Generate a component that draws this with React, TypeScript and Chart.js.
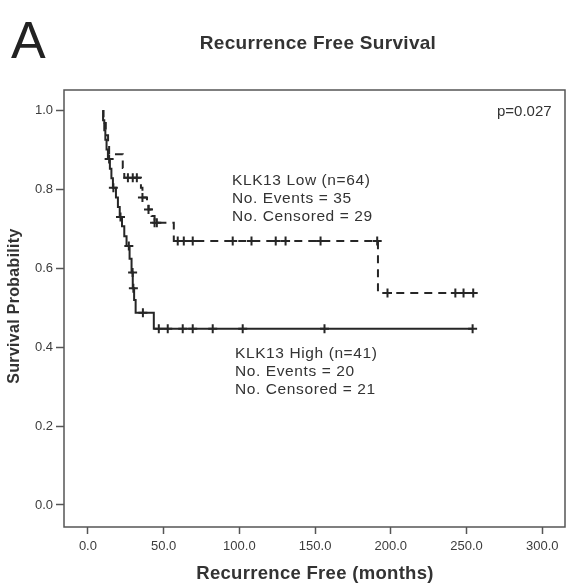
import React, { useEffect, useRef } from 'react';
import { Chart, registerables } from 'chart.js';
Chart.register(...registerables);

const xTicks = [0, 50, 100, 150, 200, 250, 300];
const yTicks = [0, 0.2, 0.4, 0.6, 0.8, 1.0];

const highTimes = [9.5, 10, 10.8, 11.5, 12.3, 13.2, 14.5, 15.5, 16.5, 18.5, 19.8, 21, 22.5, 24, 25.5, 27.5, 28.8, 29.6, 30.5, 31.5, 43.5, 254];
const highSurv = [1.0, 0.976, 0.951, 0.927, 0.902, 0.878, 0.853, 0.829, 0.805, 0.78, 0.756, 0.731, 0.707, 0.682, 0.657, 0.625, 0.59, 0.55, 0.52, 0.488, 0.447, 0.447];
const highCensorTimes = [14, 16.8, 21.5, 27, 29.5, 30, 36.3, 46.8, 52.7, 62.6, 69.2, 82.4, 102.2, 156.2, 254];

const lowTimes = [9.5, 10.3, 11, 11.8, 12.5, 13.3, 14, 23, 24, 35, 36, 39, 40, 42, 44, 56.7, 191.5, 254.4];
const lowSurv = [1.0, 0.984, 0.969, 0.953, 0.938, 0.922, 0.89, 0.855, 0.83, 0.805, 0.78, 0.765, 0.75, 0.733, 0.716, 0.67, 0.538, 0.538];
const lowCensorTimes = [26.4, 29.6, 32.3, 36, 40, 44, 45.5, 59.3, 63.3, 69.2, 95.6, 108, 124, 130.5, 153.6, 191, 197.8, 242.6, 248, 254.4];

const lowLabel = ['KLK13 Low (n=64)', 'No. Events = 35', 'No. Censored = 29'];
const highLabel = ['KLK13 High (n=41)', 'No. Events = 20', 'No. Censored = 21'];
const pValue = 'p=0.027';
const titleText = 'Recurrence Free Survival';
const panelText = 'A';
const xTitle = 'Recurrence Free (months)';
const yTitle = 'Survival Probability';

const FONT = "'Liberation Sans', Arial, Helvetica, sans-serif";
const INK = '#262626';

function survAt(times: number[], surv: number[], t: number) {
  let v = surv[0];
  for (let i = 0; i < times.length; i++) if (times[i] <= t) v = surv[i];
  return v;
}

const decorPlugin = {
  id: 'decor',
  afterDraw(chart: any) {
    const ctx = chart.ctx as any;
    const ca = chart.chartArea;
    ctx.save();
    ctx.strokeStyle = '#555';
    ctx.lineWidth = 1.5;
    ctx.strokeRect(ca.left, ca.top, ca.right - ca.left, ca.bottom - ca.top);

    ctx.fillStyle = '#222';
    ctx.textBaseline = 'alphabetic';
    ctx.textAlign = 'left';
    ctx.font = `52px ${FONT}`;
    ctx.fillText(panelText, 11, 58);

    ctx.fillStyle = '#333';
    ctx.textAlign = 'center';
    ctx.textBaseline = 'middle';
    ctx.font = `bold 19px ${FONT}`;
    ctx.letterSpacing = '0.3px';
    ctx.fillText(titleText, 318, 44);

    ctx.font = `bold 18.5px ${FONT}`;
    ctx.fillText(xTitle, 315, 574);

    ctx.save();
    ctx.translate(15, 306);
    ctx.rotate(-Math.PI / 2);
    ctx.font = `bold 16px ${FONT}`;
    ctx.fillText(yTitle, 0, 0);
    ctx.restore();

    ctx.textAlign = 'left';
    ctx.font = `15.5px ${FONT}`;
    ctx.letterSpacing = '0.6px';
    lowLabel.forEach((s: string, i: number) => ctx.fillText(s, 232, 181 + i * 18));
    highLabel.forEach((s: string, i: number) => ctx.fillText(s, 235, 354 + i * 18));
    ctx.font = `15px ${FONT}`;
    ctx.letterSpacing = '0px';
    ctx.fillText(pValue, 497, 112);
    ctx.restore();
  },
};

export default function App() {
  const ref = useRef<HTMLCanvasElement>(null);
  useEffect(() => {
    if (!ref.current) return;
    const toPts = (t: number[], s: number[]) => t.map((x, i) => ({ x, y: s[i] }));
    const censorPts = (c: number[], t: number[], s: number[]) => c.map((x) => ({ x, y: survAt(t, s, x) }));
    const tickFont = { family: FONT, size: 13 };
    const chart = new Chart(ref.current, {
      type: 'scatter',
      data: {
        datasets: [
          { data: toPts(lowTimes, lowSurv), showLine: true, stepped: 'before', borderColor: INK, borderWidth: 2, borderDash: [8, 6], pointRadius: 0 },
          { data: censorPts(lowCensorTimes, lowTimes, lowSurv), showLine: false, pointStyle: 'cross', pointRadius: 4.5, borderColor: INK, borderWidth: 2 },
          { data: toPts(highTimes, highSurv), showLine: true, stepped: 'before', borderColor: INK, borderWidth: 2, pointRadius: 0 },
          { data: censorPts(highCensorTimes, highTimes, highSurv), showLine: false, pointStyle: 'cross', pointRadius: 4.5, borderColor: INK, borderWidth: 2 },
        ] as any,
      },
      options: {
        animation: false,
        responsive: false,
        devicePixelRatio: 1,
        layout: { autoPadding: false, padding: { top: 90, right: 2, left: 0, bottom: 0 } },
        plugins: { legend: { display: false }, tooltip: { enabled: false }, title: { display: false } },
        scales: {
          x: {
            type: 'linear',
            min: -15.8,
            max: 315,
            afterBuildTicks: (s: any) => { s.ticks = xTicks.map((v) => ({ value: v })); },
            afterFit: (s: any) => { s.height = 59; s.paddingLeft = 0; s.paddingRight = 0; },
            border: { display: false },
            grid: { drawOnChartArea: false, drawTicks: true, tickLength: 7, tickColor: '#555', tickWidth: 1.5 },
            ticks: { font: tickFont, color: '#3c3c3c', padding: 5, maxRotation: 0, callback: (v: any) => Number(v).toFixed(1) },
          },
          y: {
            type: 'linear',
            min: -0.056,
            max: 1.053,
            afterBuildTicks: (s: any) => { s.ticks = yTicks.map((v) => ({ value: v })); },
            afterFit: (s: any) => { s.width = 64; s.paddingTop = 0; s.paddingBottom = 0; },
            border: { display: false },
            grid: { drawOnChartArea: false, drawTicks: true, tickLength: 8, tickColor: '#555', tickWidth: 1.5 },
            ticks: { font: tickFont, color: '#3c3c3c', padding: 3, callback: (v: any) => Number(v).toFixed(1) },
          },
        },
      } as any,
      plugins: [decorPlugin],
    });
    return () => chart.destroy();
  }, []);
  return (
    <div style={{ position: 'fixed', left: 0, top: 0, width: 567, height: 586, background: '#fff' }}>
      <canvas ref={ref} width={567} height={586} style={{ display: 'block' }} />
    </div>
  );
}
